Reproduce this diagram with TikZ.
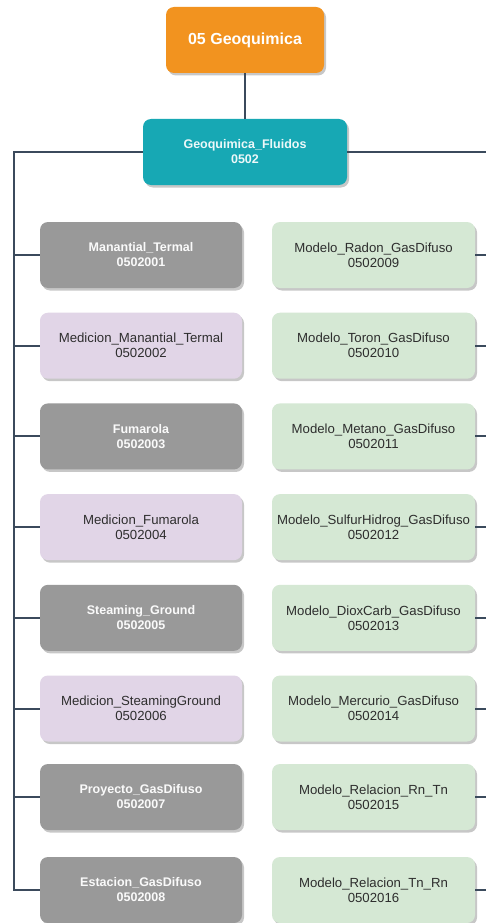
\documentclass[tikz,border=0pt]{standalone}
\usepackage{fontspec}
\setmainfont{Liberation Sans}
\usetikzlibrary{shadows}
\definecolor{orangebox}{HTML}{F2931F}
\definecolor{tealbox}{HTML}{17A8B4}
\definecolor{graybox}{HTML}{999999}
\definecolor{lavbox}{HTML}{E1D5E7}
\definecolor{greenbox}{HTML}{D5E8D4}
\definecolor{linecol}{HTML}{3B4A5C}
\definecolor{txtdark}{HTML}{2E2E2E}
\begin{document}
\begin{tikzpicture}[x=1pt,y=-1pt,
  box/.style={rounded corners=8pt, draw=none, align=center, inner sep=0pt,
    drop shadow={shadow xshift=2pt, shadow yshift=-2.5pt, fill=black, opacity=0.22}},
  topbox/.style={box, fill=orangebox, text=white, minimum width=158pt, minimum height=66pt,
    font=\fontsize{16}{18}\selectfont\bfseries},
  tealnode/.style={box, fill=tealbox, text=white!92!tealbox, minimum width=204pt, minimum height=66pt,
    font=\fontsize{12.5}{15}\selectfont\bfseries},
  graynode/.style={box, fill=graybox, text=white!95!graybox, minimum width=202pt, minimum height=66pt,
    font=\fontsize{12.5}{15}\selectfont\bfseries},
  lavnode/.style={box, fill=lavbox, text=txtdark, minimum width=202pt, minimum height=66pt,
    font=\fontsize{13.2}{15}\selectfont},
  greennode/.style={box, fill=greenbox, text=txtdark, minimum width=203pt, minimum height=66pt,
    font=\fontsize{13.2}{15}\selectfont},
  conn/.style={draw=linecol, line width=2pt}
]
\useasboundingbox (0,0) rectangle (485,923);
\fill[white] (0,0) rectangle (485,923);

\node[topbox] (top) at (245,40) {05 Geoquimica};
\node[tealnode] (fl) at (245,152) {Geoquimica\_Fluidos\\0502};

% left column
\node[graynode]  (l1) at (141,255.0) {Manantial\_Termal\\0502001};
\node[lavnode]   (l2) at (141,345.7) {Medicion\_Manantial\_Termal\\0502002};
\node[graynode]  (l3) at (141,436.4) {Fumarola\\0502003};
\node[lavnode]   (l4) at (141,527.1) {Medicion\_Fumarola\\0502004};
\node[graynode]  (l5) at (141,617.8) {Steaming\_Ground\\0502005};
\node[lavnode]   (l6) at (141,708.5) {Medicion\_SteamingGround\\0502006};
\node[graynode]  (l7) at (141,797.0) {Proyecto\_GasDifuso\\0502007};
\node[graynode]  (l8) at (141,890.0) {Estacion\_GasDifuso\\0502008};

% right column
\node[greennode] (r1) at (373.5,255.0) {Modelo\_Radon\_GasDifuso\\0502009};
\node[greennode] (r2) at (373.5,345.7) {Modelo\_Toron\_GasDifuso\\0502010};
\node[greennode] (r3) at (373.5,436.4) {Modelo\_Metano\_GasDifuso\\0502011};
\node[greennode] (r4) at (373.5,527.1) {Modelo\_SulfurHidrog\_GasDifuso\\0502012};
\node[greennode] (r5) at (373.5,617.8) {Modelo\_DioxCarb\_GasDifuso\\0502013};
\node[greennode] (r6) at (373.5,708.5) {Modelo\_Mercurio\_GasDifuso\\0502014};
\node[greennode] (r7) at (373.5,797.0) {Modelo\_Relacion\_Rn\_Tn\\0502015};
\node[greennode] (r8) at (373.5,890.0) {Modelo\_Relacion\_Tn\_Rn\\0502016};

% connectors
\coordinate (lt) at (14,152);
\coordinate (lb) at (14,890);
\coordinate (rt) at (486,152);
\draw[conn] (top.south) -- (fl.north);
\draw[conn] (fl.west) -- (lt) -- (lb) -- (l8.west);
\draw[conn] (fl.east) -- (rt);
\foreach \n in {1,...,7} {
  \draw[conn] (l\n.west) -- (l\n.west -| lt);
}
\foreach \n in {1,...,8} {
  \draw[conn] (r\n.east) -- ++(11,0);
}
\end{tikzpicture}
\end{document}
